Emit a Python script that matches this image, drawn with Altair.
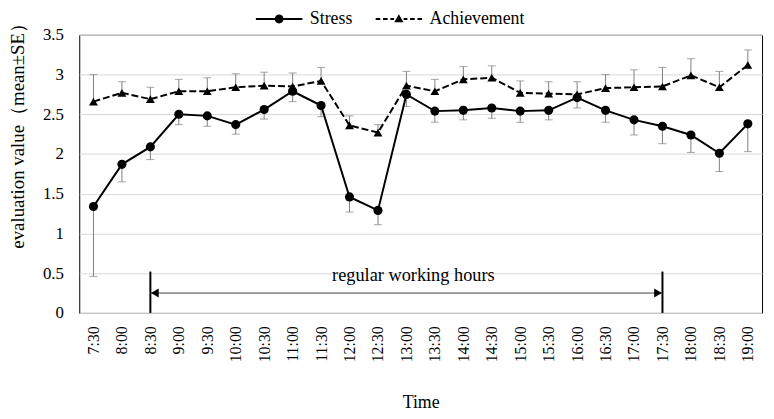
import altair as alt
import pandas as pd

times = ["7:30", "8:00", "8:30", "9:00", "9:30", "10:00", "10:30", "11:00", "11:30",
         "12:00", "12:30", "13:00", "13:30", "14:00", "14:30", "15:00", "15:30",
         "16:00", "16:30", "17:00", "17:30", "18:00", "18:30", "19:00"]
stress = [1.34, 1.87, 2.09, 2.50, 2.48, 2.37, 2.56, 2.79, 2.61, 1.46, 1.29, 2.75,
          2.54, 2.55, 2.58, 2.54, 2.55, 2.71, 2.55, 2.43, 2.35, 2.24, 2.01, 2.38]
stress_se = [0.88, 0.22, 0.16, 0.13, 0.13, 0.12, 0.12, 0.13, 0.14, 0.19, 0.18, 0.15,
             0.14, 0.12, 0.13, 0.14, 0.12, 0.13, 0.15, 0.19, 0.22, 0.22, 0.23, 0.35]
achievement = [2.66, 2.77, 2.69, 2.79, 2.79, 2.84, 2.86, 2.85, 2.92, 2.36, 2.27, 2.86,
               2.79, 2.94, 2.96, 2.77, 2.76, 2.75, 2.83, 2.84, 2.85, 2.99, 2.84, 3.12]
achievement_se = [0.34, 0.14, 0.15, 0.15, 0.17, 0.17, 0.17, 0.17, 0.17, 0.12, 0.10, 0.18,
                  0.15, 0.16, 0.15, 0.15, 0.15, 0.16, 0.17, 0.22, 0.24, 0.21, 0.20, 0.19]
series_names = ["Stress", "Achievement"]
y_ticks = [0, 0.5, 1, 1.5, 2, 2.5, 3, 3.5]

work_times = ["8:30", "17:30"]
work_bar_top = 0.52
arrow_y = 0.25
work_label = "regular working hours"
label_time = "13:00"
label_y = 0.40

rows = []
for t, m, s in zip(times, stress, stress_se):
    lo = round(m - s, 3)
    rows.append({"time": t, "series": "Stress", "mean": m, "lo": lo, "hi": m, "cap": lo})
for t, m, s in zip(times, achievement, achievement_se):
    hi = round(m + s, 3)
    rows.append({"time": t, "series": "Achievement", "mean": m, "lo": m, "hi": hi, "cap": hi})
df = pd.DataFrame(rows)

bars_df = pd.DataFrame({"time": work_times, "y0": [0, 0], "y1": [work_bar_top, work_bar_top]})
arrow_df = pd.DataFrame({"start": [work_times[0]], "end": [work_times[1]], "y": [arrow_y]})
left_df = pd.DataFrame({"time": [work_times[0]], "y": [arrow_y]})
right_df = pd.DataFrame({"time": [work_times[1]], "y": [arrow_y]})
label_df = pd.DataFrame({"time": [label_time], "y": [label_y], "text": [work_label]})

FONT = "Liberation Serif"

xaxis = alt.Axis(title="Time", labelAngle=270, labelFontSize=16, labelPadding=13,
                 ticks=False, domain=False, grid=False, titleFontSize=18,
                 titleFontWeight="normal", titleY=96, titleBaseline="alphabetic")
xscale = alt.Scale(type="point", padding=0.5, domain=times)
yscale = alt.Scale(domain=[0, 3.5], nice=False)
yaxis = alt.Axis(title="evaluation value（mean±SE）", values=y_ticks, format=".1~f",
                 labelFontSize=17, labelPadding=16, ticks=False, domain=False, grid=True,
                 gridColor="#d9d9d9", titleFontSize=19, titleFontWeight="normal",
                 titleX=-62, titleY=97, titleAngle=270, titleBaseline="middle",
                 titleAlign="center")


def X(field="time"):
    return alt.X(f"{field}:N", scale=xscale, axis=xaxis)


def Y(field):
    return alt.Y(f"{field}:Q", scale=yscale, axis=yaxis)


err = alt.Chart(df).mark_rule(color="#7f7f7f", strokeWidth=1).encode(
    x=X(), y=Y("lo"), y2="hi:Q")
caps = alt.Chart(df).mark_tick(color="#7f7f7f", size=8, thickness=1, orient="horizontal").encode(
    x=X(), y=Y("cap"))
line_s = alt.Chart(df).transform_filter(alt.datum.series == "Stress").mark_line(
    color="black", strokeWidth=2).encode(x=X(), y=Y("mean"))
line_a = alt.Chart(df).transform_filter(alt.datum.series == "Achievement").mark_line(
    color="black", strokeWidth=2, strokeDash=[7, 3]).encode(x=X(), y=Y("mean"))
pt_s = alt.Chart(df).transform_filter(alt.datum.series == "Stress").mark_point(
    shape="circle", filled=True, size=85, color="black", opacity=1).encode(x=X(), y=Y("mean"))
pt_a = alt.Chart(df).transform_filter(alt.datum.series == "Achievement").mark_point(
    shape="triangle-up", filled=True, size=80, color="black", opacity=1).encode(x=X(), y=Y("mean"))

bars = alt.Chart(bars_df).mark_rule(color="black", strokeWidth=2).encode(
    x=X(), y=Y("y0"), y2="y1:Q")
arrow = alt.Chart(arrow_df).mark_rule(color="#404040", strokeWidth=1).encode(
    x=X("start"), x2="end:N", y=Y("y"))
head_l = alt.Chart(left_df).mark_point(shape="triangle-left", filled=True, size=81,
                                       color="black", opacity=1, xOffset=4.5).encode(x=X(), y=Y("y"))
head_r = alt.Chart(right_df).mark_point(shape="triangle-right", filled=True, size=81,
                                        color="black", opacity=1, xOffset=-4.5).encode(x=X(), y=Y("y"))
label = alt.Chart(label_df).mark_text(font=FONT, fontSize=18.5, color="black",
                                      baseline="alphabetic", dx=7).encode(
    x=X(), y=Y("y"), text="text:N")

# legend glyphs drawn as filled outlines (all subpaths clockwise)
path_s = ("M-3,-0.13H3V0.13H-3Z"
          "M-0.575,0A0.575,0.575,0,1,1,0.575,0A0.575,0.575,0,1,1,-0.575,0Z")
path_a = ("M-3,-0.13H-2.4V0.13H-3Z"
          "M-2.05,-0.13H-1.45V0.13H-2.05Z"
          "M-1.1,-0.13H-0.62V0.13H-1.1Z"
          "M0.62,-0.13H1.1V0.13H0.62Z"
          "M1.45,-0.13H2.05V0.13H1.45Z"
          "M2.4,-0.13H3V0.13H2.4Z"
          "M0,-0.62L0.6,0.42L-0.6,0.42Z")
leg = alt.Legend(title=None, orient="none", legendX=193, legendY=-25, direction="horizontal",
                 symbolSize=245, symbolStrokeWidth=0, symbolFillColor="black",
                 labelFont=FONT, labelFontSize=18,
                 labelColor="black", labelOffset=22, columnPadding=22, padding=0)
carrier = alt.Chart(df).transform_filter("false").mark_point(
    filled=True, color="black", opacity=1).encode(
    x=X(), y=Y("mean"),
    shape=alt.Shape("series:N", scale=alt.Scale(domain=series_names, range=[path_s, path_a]), legend=leg),
)

chart = alt.layer(err, caps, line_a, line_s, pt_a, pt_s, bars, arrow, head_l, head_r, label, carrier).properties(
    width=690, height=281,
    autosize=alt.AutoSizeParams(type="none"),
    padding={"left": 72, "top": 25, "right": 4, "bottom": 98},
).configure_view(stroke="black", strokeWidth=1).configure_axis(
    labelFont=FONT, titleFont=FONT, labelColor="black", titleColor="black"
).configure_text(font=FONT)

chart.save("out.html", embed_options={"renderer": "svg", "actions": False})
